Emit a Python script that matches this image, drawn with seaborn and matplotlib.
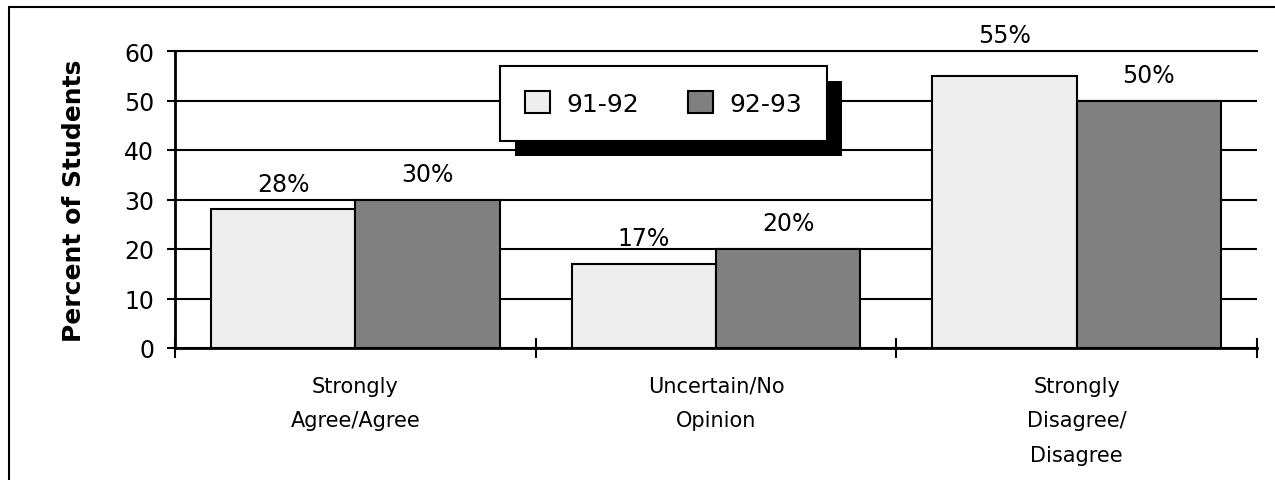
import matplotlib
matplotlib.use("Agg")
import matplotlib.pyplot as plt
from matplotlib.lines import Line2D
from matplotlib.patches import Rectangle
from matplotlib.transforms import IdentityTransform
import seaborn as sns
import pandas as pd

# Survey responses, percent of students per school year
categories = ["Strongly\nAgree/Agree", "Uncertain/No\nOpinion", "Strongly\nDisagree/\nDisagree"]
years = ["91-92", "92-93"]
pct_91_92 = [28, 17, 55]
pct_92_93 = [30, 20, 50]

df = pd.DataFrame({
    "category": categories * 2,
    "year": [years[0]] * 3 + [years[1]] * 3,
    "percent": pct_91_92 + pct_92_93,
})

sns.set_style("white")
plt.rcParams["font.family"] = ["DejaVu Sans"]
plt.rcParams["text.color"] = "black"
plt.rcParams["xtick.color"] = "black"
plt.rcParams["ytick.color"] = "black"
plt.rcParams["axes.labelcolor"] = "black"

W, H = 1275, 481
fig = plt.figure(figsize=(W / 100, H / 100), dpi=100)
ax = fig.add_axes([175 / W, 1 - 349 / H, (1257 - 175) / W, (349 - 52) / H])

sns.barplot(data=df, x="category", y="percent", hue="year", order=categories,
            hue_order=years, palette=["#eeeeee", "#808080"], saturation=1,
            edgecolor="black", linewidth=1.5, width=0.8, ax=ax, zorder=3)

# Value labels; the tallest one is lifted clear of the top gridline
for cont in ax.containers:
    anns = ax.bar_label(cont, fmt="%.0f%%", padding=10, fontsize=17)
    for bar, ann in zip(cont, anns):
        if bar.get_height() > 52:
            ann.xyann = (0, 21)

ax.set_ylim(0, 60)
ax.set_xlim(-0.5, 2.5)
ax.set_yticks(range(0, 61, 10))
ax.tick_params(axis="y", direction="out", length=6, width=1.5,
               labelsize=17, pad=9, left=True)
ax.set_xticks(range(3))
ax.set_xticklabels(categories, fontsize=15, linespacing=1.9)
ax.tick_params(axis="x", which="major", length=0, pad=20)
ax.set_xticks([-0.5, 0.5, 1.5, 2.5], minor=True)
ax.tick_params(axis="x", which="minor", direction="inout", length=15, width=1.5,
               bottom=True)

ax.yaxis.grid(True, color="black", linewidth=1.5)
ax.set_axisbelow(True)
for side in ("left", "bottom"):
    ax.spines[side].set_color("black")
    ax.spines[side].set_linewidth(2)
ax.spines["top"].set_color("black")
ax.spines["top"].set_linewidth(1.5)
ax.spines["right"].set_visible(False)

ax.set_xlabel("")
ax.set_ylabel("Percent of Students", fontsize=18, fontweight="bold")
ax.yaxis.set_label_coords(-0.082, 0.5)

handles, labels = ax.get_legend_handles_labels()
leg = ax.legend(handles, labels, ncol=2, loc="upper left",
                bbox_to_anchor=(500 / W, 1 - 67 / H), bbox_transform=fig.transFigure,
                borderaxespad=0, fontsize=18, frameon=True, fancybox=False,
                edgecolor="black", framealpha=1, handlelength=1.0, handleheight=1.0,
                handletextpad=0.65, columnspacing=1.95, borderpad=1.0)
leg.get_frame().set_linewidth(1.5)
leg.set_zorder(6)

# Solid drop shadow behind the legend box
fig.canvas.draw()
bb = leg.get_frame().get_window_extent()
shadow = Rectangle((bb.x0 + 15, bb.y0 - 15), bb.width, bb.height,
                   transform=IdentityTransform(), facecolor="black",
                   edgecolor="none", zorder=5.5, clip_on=False)
ax.add_artist(shadow)

# Outer frame (top and left edges)
fig.add_artist(Line2D([9 / W, 9 / W], [0, 1 - 8 / H], transform=fig.transFigure,
                      color="black", linewidth=1.5))
fig.add_artist(Line2D([9 / W, 1], [1 - 8 / H, 1 - 8 / H], transform=fig.transFigure,
                      color="black", linewidth=1.5))

fig.savefig("out.png", dpi=100)
